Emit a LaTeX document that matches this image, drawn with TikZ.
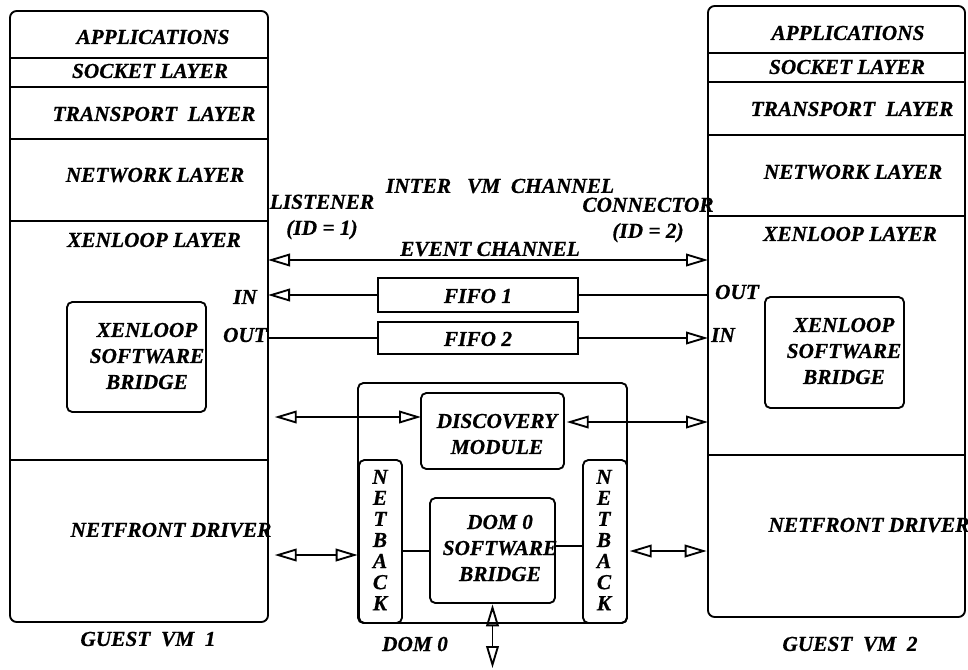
\documentclass[tikz,border=0pt]{standalone}
\usepackage{fontspec}
\setmainfont{Liberation Serif}[BoldItalicFeatures = {FakeBold = 0.6}]
\usetikzlibrary{
    arrows.meta,
    fit,
    positioning
}
\tikzset{
    every picture/.style = {
        > = {Triangle[open, length = 16.5pt, width = 9.5pt]},
        line width = 1.4pt
    },
    every node/.style = {
        inner sep = 0pt,
        outer sep = 0pt,
        align = center
    },
    vmbox/.style = {
        draw,
        rounded corners = 5pt
    },
    modbox/.style = {
        draw,
        rounded corners = 4pt
    },
    fifobox/.style = {
        draw
    },
    letters/.style = {
        font = \bfseries\itshape\fontsize{16}{15.8}\selectfont
    }
}

\begin{document}
\begin{tikzpicture}[x = 0.75pt, y = -0.75pt, font = \bfseries\itshape\fontsize{16}{19.5}\selectfont]
    \useasboundingbox (0, 0) rectangle (968, 669);
    % guest vm 1
    \node[vmbox, fit = {(10, 11) (268, 622)}] (vm1) {};
    \foreach \y in {58, 87, 139, 221, 460}
        \draw (vm1.west |- 0, \y) -- (vm1.east |- 0, \y);
    \node (app1) at (153, 37) {APPLICATIONS};
    \node (sock1) at (150, 71) {SOCKET LAYER};
    \node (trans1) at (154, 114) {TRANSPORT~~LAYER};
    \node (net1) at (155, 175) {NETWORK LAYER};
    \node (xl1) at (154, 240) {XENLOOP LAYER};
    \node (nf1) at (171, 530) {NETFRONT DRIVER};
    \node (guest1) at (148, 639) {GUEST~~VM~~1};
    \node[modbox, fit = {(67, 302) (206, 412)}] (xb1) {};
    \node (xbtext1) at (147, 356) {XENLOOP\\SOFTWARE\\BRIDGE};
    % guest vm 2
    \node[vmbox, fit = {(708, 6) (965, 617)}] (vm2) {};
    \foreach \y in {53, 82, 135, 216, 455}
        \draw (vm2.west |- 0, \y) -- (vm2.east |- 0, \y);
    \node (app2) at (848, 33) {APPLICATIONS};
    \node (sock2) at (847, 67) {SOCKET LAYER};
    \node (trans2) at (852, 109) {TRANSPORT~~LAYER};
    \node (net2) at (853, 172) {NETWORK LAYER};
    \node (xl2) at (850, 234) {XENLOOP LAYER};
    \node (nf2) at (869, 525) {NETFRONT DRIVER};
    \node (guest2) at (850, 644) {GUEST~~VM~~2};
    \node[modbox, fit = {(765, 297) (904, 408)}] (xb2) {};
    \node (xbtext2) at (844, 351) {XENLOOP\\SOFTWARE\\BRIDGE};
    % inter vm channel
    \node (ivc) at (500, 186) {INTER~~~VM~~CHANNEL};
    \node (lis) at (322, 217) {LISTENER\\(ID = 1)};
    \node (con) at (648, 220) {CONNECTOR\\(ID = 2)};
    \node (evt) at (490, 249) {EVENT CHANNEL};
    \draw[<->] (vm1.east |- 0, 260) -- (vm2.west |- 0, 260);
    \node[fifobox, fit = {(378, 278) (578, 312)}] (fifo1) {};
    \node (fifotext1) at (478, 296) {FIFO 1};
    \node[fifobox, fit = {(378, 322) (578, 354)}] (fifo2) {};
    \node (fifotext2) at (478, 339) {FIFO 2};
    \node (in1) at (245, 297) {IN};
    \node (out1) at (245, 335) {OUT};
    \node (out2) at (737, 292) {OUT};
    \node (in2) at (723, 335) {IN};
    \draw[<-] (vm1.east |- fifo1.west) -- (fifo1.west);
    \draw (fifo1.east) -- (vm2.west |- fifo1.east);
    \draw (vm1.east |- fifo2.west) -- (fifo2.west);
    \draw[->] (fifo2.east) -- (vm2.west |- fifo2.east);
    % dom 0
    \node[modbox, fit = {(358, 383) (627, 623)}] (dom0) {};
    \node (domtext) at (415, 644) {DOM 0};
    \node[modbox, fit = {(421, 393) (564, 469)}] (disc) {};
    \node (disctext) at (497, 434) {DISCOVERY\\MODULE};
    \node[modbox, fit = {(359, 460) (402, 623)}] (nbl) {};
    \node[letters] (nbltext) at (380, 540) {N\\E\\T\\B\\A\\C\\K};
    \node[modbox, fit = {(583, 460) (627, 623)}] (nbr) {};
    \node[letters] (nbrtext) at (604, 540) {N\\E\\T\\B\\A\\C\\K};
    \node[modbox, fit = {(430, 498) (555, 603)}] (swb) {};
    \node (swbtext) at (500, 548) {DOM 0\\SOFTWARE\\BRIDGE};
    \coordinate (ext) at (swb.south |- 0, 668);
    \draw[<->, shorten <= 5pt] (vm1.east |- 0, 417) -- (disc.west |- 0, 417);
    \draw[<->, shorten <= 2pt] (disc.east |- 0, 422) -- (vm2.west |- 0, 422);
    \draw[<->, shorten <= 5pt, shorten >= 1pt] (vm1.east |- 0, 555) -- (nbl.west |- 0, 555);
    \draw[<->, shorten <= 2pt, shorten >= 1pt] (nbr.east |- 0, 551) -- (vm2.west |- 0, 551);
    \draw (nbl.east |- 0, 551) -- (swb.west |- 0, 551);
    \draw (swb.east |- 0, 546) -- (nbr.west |- 0, 546);
    \draw[<->, shorten <= 1pt] (swb.south) -- (ext);
\end{tikzpicture}
\end{document}
